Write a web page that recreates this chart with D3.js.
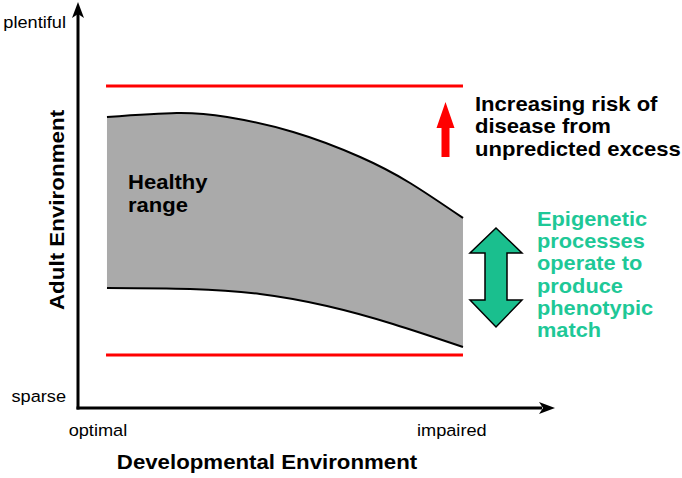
<!DOCTYPE html>
<html><head><meta charset="utf-8">
<script src="https://cdn.jsdelivr.net/npm/d3@7"></script>
<style>body{margin:0;background:#fff}svg{display:block;font-family:"Liberation Sans",Arial,sans-serif}</style>
</head><body>
<svg id="c" width="682" height="478"></svg>
<script>
// Data (x: developmental environment 0=optimal..100; y: adult environment 0=sparse..100=plentiful)
const upperX = [6.1, 20.8, 31.4, 45.3, 59.4, 69.9, 81.05];
const upperY = [72.75, 73.75, 72.75, 69, 62.75, 56.25, 47.5];
const lowerX = [6.1, 23.6, 38.3, 52.4, 66.3, 81.05];
const lowerY = [30, 29.75, 28.5, 25.5, 21, 15.25];
const riskLimits = [80.5, 13.25];
const riskSpan = [5.9, 81.05];
const xTickLabels = ["optimal", "impaired"];
const xTickPos = [4.2, 78.7];
const yTickLabels = ["plentiful", "sparse"];
const yTickPos = [95, 1.5];

const svg = d3.select("#c");
const x = d3.scaleLinear().domain([0, 100]).range([78, 553]);
const y = d3.scaleLinear().domain([0, 100]).range([408, 8]);

const upper = upperX.map((v, i) => [v, upperY[i]]);
const lower = lowerX.map((v, i) => [v, lowerY[i]]);
const curve = d3.curveNatural;

const lineGen = d3.line().x(d => x(d[0])).y(d => y(d[1])).curve(curve);
const upPath = lineGen(upper);
const lowRev = lineGen(lower.slice().reverse());
svg.append("path")
  .attr("d", upPath + "L" + lowRev.slice(1) + "Z")
  .attr("fill", "#aaaaaa").attr("stroke", "none");
svg.append("path").attr("d", upPath).attr("fill", "none").attr("stroke", "#000").attr("stroke-width", 2);
svg.append("path").attr("d", lineGen(lower)).attr("fill", "none").attr("stroke", "#000").attr("stroke-width", 2);

// red limit lines
riskLimits.forEach(v => {
  svg.append("line").attr("x1", x(riskSpan[0])).attr("x2", x(riskSpan[1]))
    .attr("y1", y(v)).attr("y2", y(v)).attr("stroke", "#ff0000").attr("stroke-width", 3);
});

// axes
const x0 = x(0), y0 = y(0);
svg.append("line").attr("x1", x0).attr("y1", y0 + 1.5).attr("x2", x0).attr("y2", 14)
  .attr("stroke", "#000").attr("stroke-width", 3);
svg.append("path").attr("d", `M${x0},2 L${x0 - 6},18 L${x0},14 L${x0 + 6},18 Z`).attr("fill", "#000");
svg.append("line").attr("x1", x0 - 1.5).attr("y1", y0).attr("x2", 542).attr("y2", y0)
  .attr("stroke", "#000").attr("stroke-width", 3);
svg.append("path").attr("d", `M555,${y0} L539,${y0 - 6} L543,${y0} L539,${y0 + 6} Z`).attr("fill", "#000");

// text helper with horizontal stretch along the text direction
function addText(lines, tx, ty, opts) {
  const o = Object.assign({size: 18, stretch: 1, dy: 22, anchor: "start", color: "#000", weight: "normal", rotate: 0}, opts);
  const g = svg.append("g").attr("transform", `translate(${tx},${ty}) rotate(${o.rotate}) scale(${o.stretch},1)`);
  const t = g.append("text").attr("text-anchor", o.anchor).attr("font-size", o.size)
    .attr("font-weight", o.weight).attr("fill", o.color);
  lines.forEach((l, i) => t.append("tspan").attr("x", 0).attr("y", i * o.dy).text(l));
}

// tick labels
xTickLabels.forEach((t, i) => addText([t], x(xTickPos[i]), 436, {size: 17, stretch: 1.07, anchor: "middle"}));
yTickLabels.forEach((t, i) => addText([t], 66, y(yTickPos[i]), {size: 17, stretch: 1.07, anchor: "end"}));

// axis titles
addText(["Developmental Environment"], 267, 469, {size: 21, stretch: 1.06, anchor: "middle", weight: "bold"});
addText(["Adult Environment"], 64, 210, {size: 20, stretch: 1.12, anchor: "middle", weight: "bold", rotate: -90});

// Healthy range label
addText(["Healthy", "range"], 128, 189, {size: 19.5, stretch: 1.13, dy: 23, weight: "bold"});

// red arrow
const ax = 445.5;
svg.append("path").attr("d",
  `M${ax},102 L${ax + 9},128 L${ax + 4},128 L${ax + 4},157 L${ax - 4},157 L${ax - 4},128 L${ax - 9},128 Z`)
  .attr("fill", "#ff0000");

// risk text
addText(["Increasing risk of", "disease from", "unpredicted excess"], 475, 111, {size: 21, stretch: 1.05, dy: 22.5, weight: "bold"});

// teal double arrow
const tx = 496;
svg.append("path").attr("d",
  `M${tx},228 L${tx + 26},253 L${tx + 11},253 L${tx + 11},300 L${tx + 26},300 L${tx},327 L${tx - 26},300 L${tx - 11},300 L${tx - 11},253 L${tx - 26},253 Z`)
  .attr("fill", "#1abf8e").attr("stroke", "#000").attr("stroke-width", 1.5).attr("stroke-linejoin", "miter");

addText(["Epigenetic", "processes", "operate to", "produce", "phenotypic", "match"], 537, 226,
  {size: 20, stretch: 1.09, dy: 22.2, weight: "bold", color: "#1ec897"});
</script>
</body></html>
